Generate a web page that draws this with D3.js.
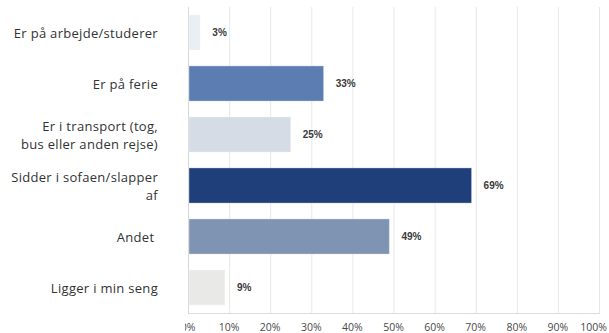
<!DOCTYPE html>
<html>
<head>
<meta charset="utf-8">
<script src="https://cdn.jsdelivr.net/npm/d3@7"></script>
<style>
  html, body { margin: 0; padding: 0; background: #fff; }
  svg { display: block; }
</style>
</head>
<body>
<svg id="chart" width="609" height="333"></svg>
<script>
// Survey answers: where respondents are
const categories = [
  ["Er på arbejde/studerer"],
  ["Er på ferie"],
  ["Er i transport (tog,", "bus eller anden rejse)"],
  ["Sidder i sofaen/slapper", "af"],
  ["Andet "],
  ["Ligger i min seng"]
];
const values = [3, 33, 25, 69, 49, 9];
const barColors = ["#e9eef3", "#5b7db1", "#d5dce6", "#1f3f7b", "#7f93b3", "#e9e9e7"];
const tickValues = [0, 10, 20, 30, 40, 50, 60, 70, 80, 90, 100];

const svg = d3.select("#chart");
const margin = { left: 188, top: 7 };

const x = d3.scaleLinear().domain([0, 100]).range([margin.left, 599]);
const y = d3.scaleBand().domain(d3.range(values.length))
  .range([margin.top, 313]).paddingInner(0.31).paddingOuter(0.155);

// gridlines
svg.append("g").selectAll("line").data(tickValues.slice(1)).join("line")
  .attr("x1", d => x(d) + 0.5).attr("x2", d => x(d) + 0.5)
  .attr("y1", margin.top).attr("y2", 313)
  .attr("stroke", "#e8e8e8").attr("stroke-width", 1);

// axis lines
svg.append("line").attr("x1", x(0) + 0.5).attr("x2", x(0) + 0.5)
  .attr("y1", margin.top).attr("y2", 313.5).attr("stroke", "#d6d6d6");
svg.append("line").attr("x1", x(0)).attr("x2", x(100) + 1)
  .attr("y1", 313.5).attr("y2", 313.5).attr("stroke", "#dcdcdc");

// bars
svg.append("g").selectAll("rect").data(values).join("rect")
  .attr("x", x(0) + 1)
  .attr("y", (d, i) => y(i))
  .attr("width", d => x(d) - x(0) - 1)
  .attr("height", y.bandwidth())
  .attr("fill", (d, i) => barColors[i])
  .attr("stroke", "#ffffff").attr("stroke-opacity", 0.35).attr("stroke-width", 1);

// value labels
svg.append("g").selectAll("text").data(values).join("text")
  .attr("x", d => x(d) + 12)
  .attr("y", (d, i) => y(i) + y.bandwidth() / 2)
  .attr("dy", "0.35em")
  .attr("font-family", "Liberation Sans, Arial, sans-serif")
  .attr("font-weight", "bold")
  .attr("font-size", 10)
  .attr("fill", "#3a3a3a")
  .text(d => d + "%");

// category labels
const catG = svg.append("g");
categories.forEach((lines, i) => {
  const cy = y(i) + y.bandwidth() / 2 + 1;
  const lh = 17.5;
  const t = catG.append("text")
    .attr("x", 158)
    .attr("text-anchor", "end")
    .attr("font-family", "Open Sans, sans-serif")
    .attr("font-size", 13)
    .attr("letter-spacing", 0.3)
    .attr("fill", "#333")
    .style("white-space", "pre");
  lines.forEach((ln, j) => {
    t.append("tspan")
      .attr("x", 158)
      .attr("y", cy + (j - (lines.length - 1) / 2) * lh)
      .attr("dy", "0.35em")
      .text(ln);
  });
});

// x tick labels, clipped at the left edge of the plot panel
svg.append("clipPath").attr("id", "tickclip")
  .append("rect").attr("x", 185).attr("y", 314).attr("width", 424).attr("height", 19);
const last = tickValues[tickValues.length - 1];
svg.append("g").attr("clip-path", "url(#tickclip)")
  .selectAll("text").data(tickValues).join("text")
  .attr("x", d => d === last ? 607 : x(d))
  .attr("y", 327)
  .attr("dy", "0.35em")
  .attr("text-anchor", d => d === last ? "end" : "middle")
  .attr("font-family", "Open Sans, sans-serif")
  .attr("font-size", 10.5)
  .attr("fill", "#4a4a4a")
  .text(d => d + "%");
</script>
</body>
</html>
